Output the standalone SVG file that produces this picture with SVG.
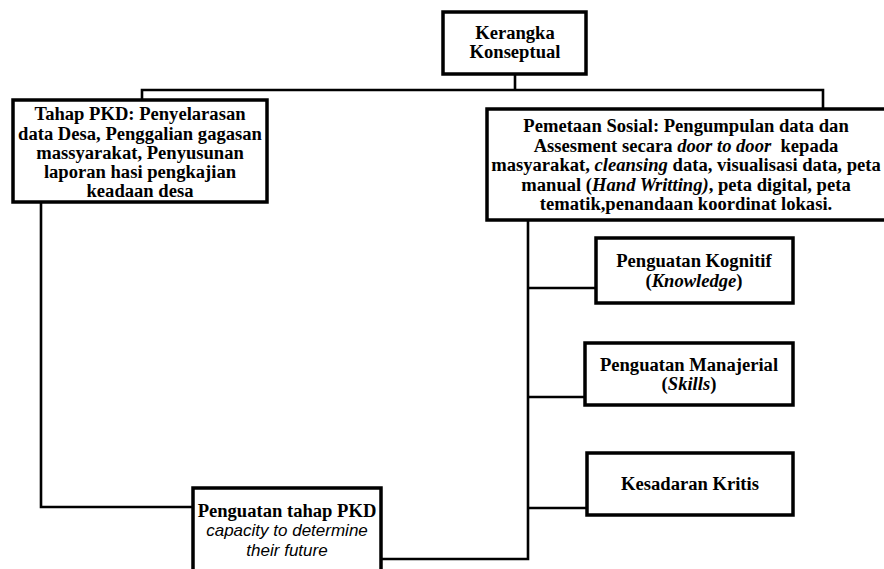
<svg xmlns="http://www.w3.org/2000/svg" width="884" height="569" viewBox="0 0 884 569">
<style>
.box{fill:#fff;stroke:#000;stroke-width:3.5}
.ln{fill:none;stroke:#000;stroke-width:2.6}
.t{font-family:"Liberation Serif","Times New Roman",serif;font-weight:bold;font-size:18.6px;fill:#000;text-anchor:middle}
.i{font-style:italic}
.s{font-family:"Liberation Sans",Arial,sans-serif;font-style:italic;font-size:17px;fill:#000;text-anchor:middle}
</style>
<rect width="884" height="569" fill="#fff"/>
<g id="connectors">
<polyline class="ln" points="515,74 515,90"/>
<polyline class="ln" points="142,100 142,90 823,90 823,109"/>
<polyline class="ln" points="41,202 41,507 193,507"/>
<polyline class="ln" points="528,220 528,559 381,559"/>
<polyline class="ln" points="528,288 596,288"/>
<polyline class="ln" points="528,397 585,397"/>
<polyline class="ln" points="528,508 587,508"/>
</g>
<g id="kerangka">
<rect class="box" x="443" y="12" width="143" height="62"/>
<text class="t" x="515" y="39">Kerangka</text>
<text class="t" x="515" y="58">Konseptual</text>
</g>
<g id="tahap-pkd">
<rect class="box" x="13" y="100" width="254" height="102"/>
<text class="t" x="140" y="120">Tahap PKD: Penyelarasan</text>
<text class="t" x="140" y="140">data Desa, Penggalian gagasan</text>
<text class="t" x="140" y="159">massyarakat, Penyusunan</text>
<text class="t" x="140" y="178">laporan hasi pengkajian</text>
<text class="t" x="140" y="197">keadaan desa</text>
</g>
<g id="pemetaan-sosial">
<rect class="box" x="487" y="109" width="400" height="111"/>
<text class="t" x="686" y="132">Pemetaan Sosial: Pengumpulan data dan</text>
<text class="t" x="686" y="151.5">Assesment secara <tspan class="i">door to door</tspan>&#160; kepada</text>
<text class="t" x="686" y="171">masyarakat, <tspan class="i">cleansing</tspan> data, visualisasi data, peta</text>
<text class="t" x="686" y="190.5">manual (<tspan class="i">Hand Writting)</tspan>, peta digital, peta</text>
<text class="t" x="686" y="210">tematik,penandaan koordinat lokasi.</text>
</g>
<g id="kognitif">
<rect class="box" x="596" y="238" width="197" height="65"/>
<text class="t" x="694" y="267">Penguatan Kognitif</text>
<text class="t" x="694" y="287">(<tspan class="i">Knowledge</tspan>)</text>
</g>
<g id="manajerial">
<rect class="box" x="585" y="343" width="208" height="62"/>
<text class="t" x="689" y="371">Penguatan Manajerial</text>
<text class="t" x="689" y="390">(<tspan class="i">Skills</tspan>)</text>
</g>
<g id="kesadaran">
<rect class="box" x="587" y="453" width="206" height="62"/>
<text class="t" x="690" y="490">Kesadaran Kritis</text>
</g>
<g id="penguatan-pkd">
<rect class="box" x="193" y="488" width="188" height="90"/>
<text class="t" x="287" y="517">Penguatan tahap PKD</text>
<text class="s" x="287" y="536">capacity to determine</text>
<text class="s" x="287" y="556">their future</text>
</g>
</svg>
